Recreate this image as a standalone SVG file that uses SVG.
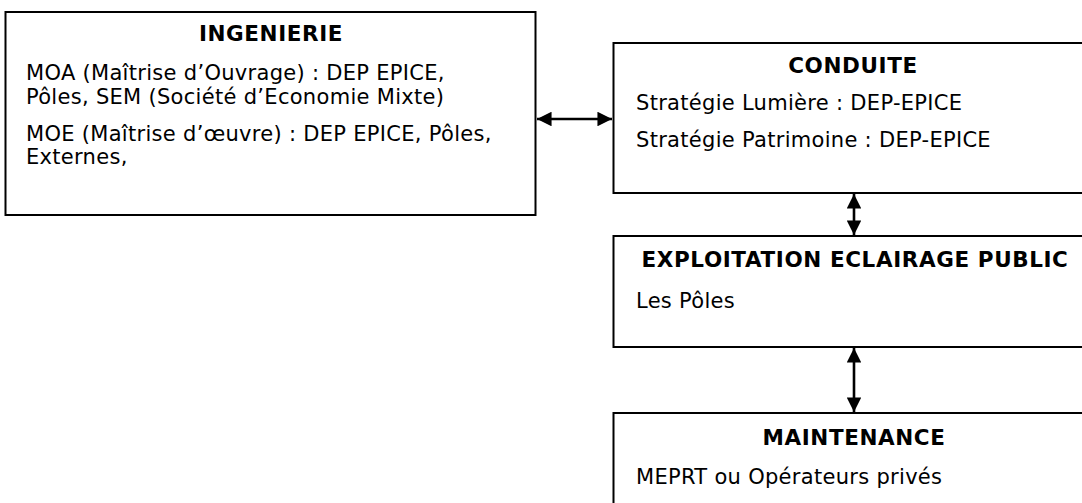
<svg xmlns="http://www.w3.org/2000/svg" width="1082" height="503" viewBox="0 0 1082 503">
  <style>
    .box { fill: #ffffff; stroke: #000000; stroke-width: 2; }
    .t { font-family: "DejaVu Sans", Verdana, sans-serif; font-size: 21px; letter-spacing: 0.3px; fill: #000000; }
    .h { font-family: "DejaVu Sans", Verdana, sans-serif; font-size: 21.5px; letter-spacing: 0.6px; font-weight: bold; fill: #000000; text-anchor: middle; }
    .c { fill: none; stroke: #000000; stroke-width: 2.6; }
  </style>
  <defs>
    <marker id="ah" viewBox="0 0 10 10" refX="10" refY="5" markerWidth="6" markerHeight="5.6" markerUnits="strokeWidth" orient="auto-start-reverse">
      <path d="M0,0 L10,5 L0,10 Z" fill="#000000"/>
    </marker>
  </defs>
  <rect width="1082" height="503" fill="#ffffff"/>
  <g id="ingenierie">
    <rect class="box" x="5.5" y="12" width="530" height="203"/>
    <text class="h" x="271" y="41">INGENIERIE</text>
    <text class="t" x="26" y="80">MOA (Maîtrise d’Ouvrage) : DEP EPICE,</text>
    <text class="t" x="26" y="104">Pôles, SEM (Société d’Economie Mixte)</text>
    <text class="t" x="26" y="141">MOE (Maîtrise d’œuvre) : DEP EPICE, Pôles,</text>
    <text class="t" x="26" y="164">Externes,</text>
  </g>
  <g id="conduite">
    <rect class="box" x="613.5" y="43" width="480" height="150"/>
    <text class="h" x="853" y="73">CONDUITE</text>
    <text class="t" x="636" y="110">Stratégie Lumière : DEP-EPICE</text>
    <text class="t" x="636" y="147">Stratégie Patrimoine : DEP-EPICE</text>
  </g>
  <g id="exploitation">
    <rect class="box" x="613.5" y="236" width="480" height="111"/>
    <text class="h" x="855" y="267">EXPLOITATION ECLAIRAGE PUBLIC</text>
    <text class="t" x="636" y="308">Les Pôles</text>
  </g>
  <g id="maintenance">
    <rect class="box" x="613.5" y="413" width="480" height="100"/>
    <text class="h" x="854" y="445">MAINTENANCE</text>
    <text class="t" x="636" y="484">MEPRT ou Opérateurs privés</text>
  </g>
  <g id="connectors">
    <line class="c" x1="537" y1="119" x2="612" y2="119" marker-start="url(#ah)" marker-end="url(#ah)"/>
    <line class="c" x1="854" y1="194" x2="854" y2="235" marker-start="url(#ah)" marker-end="url(#ah)"/>
    <line class="c" x1="854" y1="348" x2="854" y2="412" marker-start="url(#ah)" marker-end="url(#ah)"/>
  </g>
</svg>
